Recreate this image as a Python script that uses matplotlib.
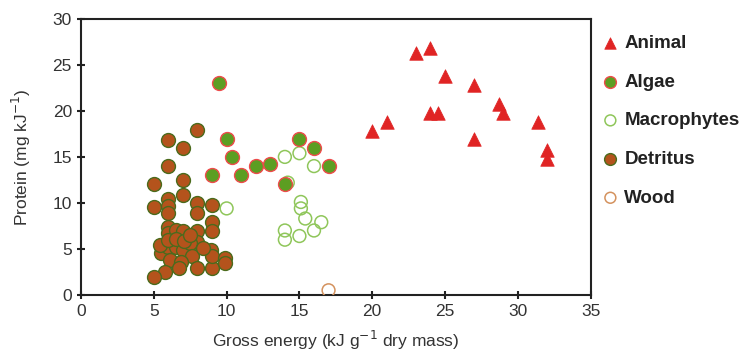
import numpy as np
import matplotlib; matplotlib.use("Agg"); import matplotlib.pyplot as plt

plt.rcParams.update({"font.family": ["Liberation Sans", "DejaVu Sans"], "font.size": 12})

# --- data ---
animal_x = [20, 21, 23, 24, 25, 24, 24.5, 27, 27, 28.7, 29, 31.4, 32, 32]
animal_y = [17.8, 18.8, 26.3, 26.8, 23.8, 19.8, 19.8, 22.8, 16.9, 20.8, 19.8, 18.8, 15.8, 14.8]

algae_x = [9.5, 10, 10.4, 9, 11, 12, 13, 14, 15, 16, 17]
algae_y = [23, 17, 15, 13, 13, 14, 14.2, 12, 17, 16, 14]

macro_x = [14, 15, 16, 14.2, 10, 15.1, 15.1, 15.4, 16.5, 14, 14, 15, 16]
macro_y = [15, 15.4, 14, 12.2, 9.4, 10.1, 9.4, 8.3, 7.9, 7, 6, 6.4, 7]

detritus_x = [8, 6, 7, 6, 7, 5, 7, 6, 5, 6, 6, 8, 8, 9, 9, 9,
              6, 6, 6.5, 7, 8, 8, 5.5, 6, 6.5, 7, 7.5, 7.6, 6.1, 6.9,
              8, 9, 8.9, 9, 9.9, 9.9, 6.7, 5.8, 5, 8.4, 5.4, 6, 6.5, 7.1, 7.5]
detritus_y = [17.9, 16.8, 16, 14, 12.5, 12, 10.9, 10.4, 9.5, 9.7, 8.9, 10, 8.9, 9.8, 7.9, 6.9,
              7.4, 6.7, 7, 6.9, 6.9, 5.8, 4.5, 5.2, 5.2, 4.9, 5.6, 4.2, 3.8, 3.6,
              2.9, 2.9, 4.9, 4.2, 4.0, 3.5, 2.9, 2.5, 1.9, 5.1, 5.4, 6, 6.1, 5.9, 6.5]

wood_x = [17]
wood_y = [0.5]

RED, GREEN, LGREEN, BROWN, OLIVE, WOOD = "#e02424", "#5c9e22", "#8fc65a", "#b4531c", "#4b6b1c", "#d4925e"
TXT = "#333333"

fig = plt.figure(figsize=(7.43, 3.57), dpi=100)
ax = fig.add_axes([0.109, 0.174, 0.686, 0.773])

ax.scatter(detritus_x, detritus_y, s=100, marker="o", facecolor=BROWN, edgecolor=OLIVE, lw=1.0, label="Detritus", zorder=3)
ax.scatter(macro_x, macro_y, s=85, marker="o", facecolor="none", edgecolor=LGREEN, lw=1.1, label="Macrophytes", zorder=3)
ax.scatter(algae_x, algae_y, s=100, marker="o", facecolor=GREEN, edgecolor="#ee4b4b", lw=1.0, label="Algae", zorder=4)
ax.scatter(wood_x, wood_y, s=85, marker="o", facecolor="none", edgecolor=WOOD, lw=1.1, label="Wood", zorder=3)
ax.scatter(animal_x, animal_y, s=95, marker="^", facecolor=RED, edgecolor=RED, lw=0.5, label="Animal", zorder=4)

ax.set_xlim(0, 35); ax.set_ylim(0, 30)
ax.set_xticks(range(0, 36, 5)); ax.set_yticks(range(0, 31, 5))
ax.tick_params(direction="inout", length=6, width=1.5, colors="#222222", labelcolor=TXT, labelsize=12.5)
for s in ax.spines.values():
    s.set_linewidth(1.5); s.set_color("#222222")
ax.set_xlabel("Gross energy (kJ g$^{-1}$ dry mass)", color=TXT, fontsize=12.5, labelpad=7)
ax.set_ylabel("Protein (mg kJ$^{-1}$)", color=TXT, fontsize=12.5, labelpad=14)

h, l = ax.get_legend_handles_labels()
order = ["Animal", "Algae", "Macrophytes", "Detritus", "Wood"]
hh = [h[l.index(k)] for k in order]
leg = ax.legend(hh, order, loc="upper left", bbox_to_anchor=(1.0, 0.99), frameon=False,
                prop={"weight": "bold", "size": 13.5}, labelspacing=1.15, handlelength=0.7,
                handletextpad=0.4, borderaxespad=0.3, scatterpoints=1, markerscale=0.85)
for t in leg.get_texts():
    t.set_color("#222222")

fig.savefig("out.png", dpi=100)
